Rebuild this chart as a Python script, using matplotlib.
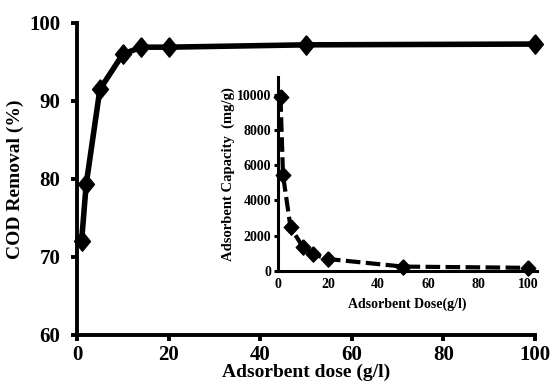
import matplotlib.pyplot as plt

plt.rcParams['font.family'] = ['Liberation Serif', 'DejaVu Serif']
plt.rcParams['font.weight'] = 'bold'

# main curve: COD removal vs dose
dose = [1, 2, 5, 10, 14, 20, 50, 100]
cod_removal = [72.0, 79.3, 91.5, 96.0, 96.9, 96.9, 97.2, 97.3]

# inset: adsorbent capacity vs dose
cap_dose = [1, 2, 5, 10, 14, 20, 50, 100]
capacity = [9850, 5450, 2480, 1350, 950, 680, 250, 180]

diamond = [(0, 1), (0.82, 0), (0, -1), (-0.82, 0), (0, 1)]
diamond_sq = [(0, 1), (0.95, 0), (0, -1), (-0.95, 0), (0, 1)]

fig = plt.figure(figsize=(5.5, 3.85), dpi=100)
ax = fig.add_axes([77/550, 1-335/385, 458/550, 312/385])
ax.plot(dose, cod_removal, color='black', lw=4, marker=diamond, ms=14,
        clip_on=False, zorder=3, solid_joinstyle='round')
ax.set_xlim(0, 100)
ax.set_ylim(60, 100)
ax.set_xticks([0, 20, 40, 60, 80, 100])
ax.set_yticks([60, 70, 80, 90, 100])
for s in ['top', 'right']:
    ax.spines[s].set_visible(False)
for s in ['left', 'bottom']:
    ax.spines[s].set_linewidth(2.8)
ax.tick_params(width=2.8, length=4, labelsize=15)
ax.tick_params(axis='x', pad=3)
ax.tick_params(axis='y', pad=8)
for t in ax.get_xticklabels() + ax.get_yticklabels():
    t.set_fontweight('bold')
ax.set_xlabel('Adsorbent dose (g/l)', fontsize=14, fontweight='bold', labelpad=-1)
ax.set_ylabel('COD Removal (%)', fontsize=14, fontweight='bold', labelpad=4)

# inset
ins = fig.add_axes([278/550, 1-271/385, 259/550, 194/385])
ins.plot(cap_dose, capacity, color='black', lw=3, ls=(0, (3.5, 1.3)),
         marker=diamond_sq, ms=11, clip_on=False, zorder=3)
ins.set_xlim(0, 103.6)
ins.set_ylim(0, 11000)
ins.set_xticks([0, 20, 40, 60, 80, 100])
ins.set_yticks([0, 2000, 4000, 6000, 8000, 10000])
for s in ['top', 'right']:
    ins.spines[s].set_visible(False)
for s in ['left', 'bottom']:
    ins.spines[s].set_linewidth(2.2)
ins.tick_params(axis='y', width=2.2, length=3, labelsize=10, pad=2)
ins.tick_params(axis='x', length=0, labelsize=10, pad=5)
for t in ins.get_xticklabels() + ins.get_yticklabels():
    t.set_fontweight('bold')
ins.set_xlabel('Adsorbent Dose(g/l)', fontsize=10, fontweight='bold', labelpad=5)
ins.set_ylabel('Adsorbent Capacity  (mg/g)', fontsize=10.5, fontweight='bold', labelpad=1)
ins.patch.set_alpha(0)

fig.savefig('out.png', dpi=100)
